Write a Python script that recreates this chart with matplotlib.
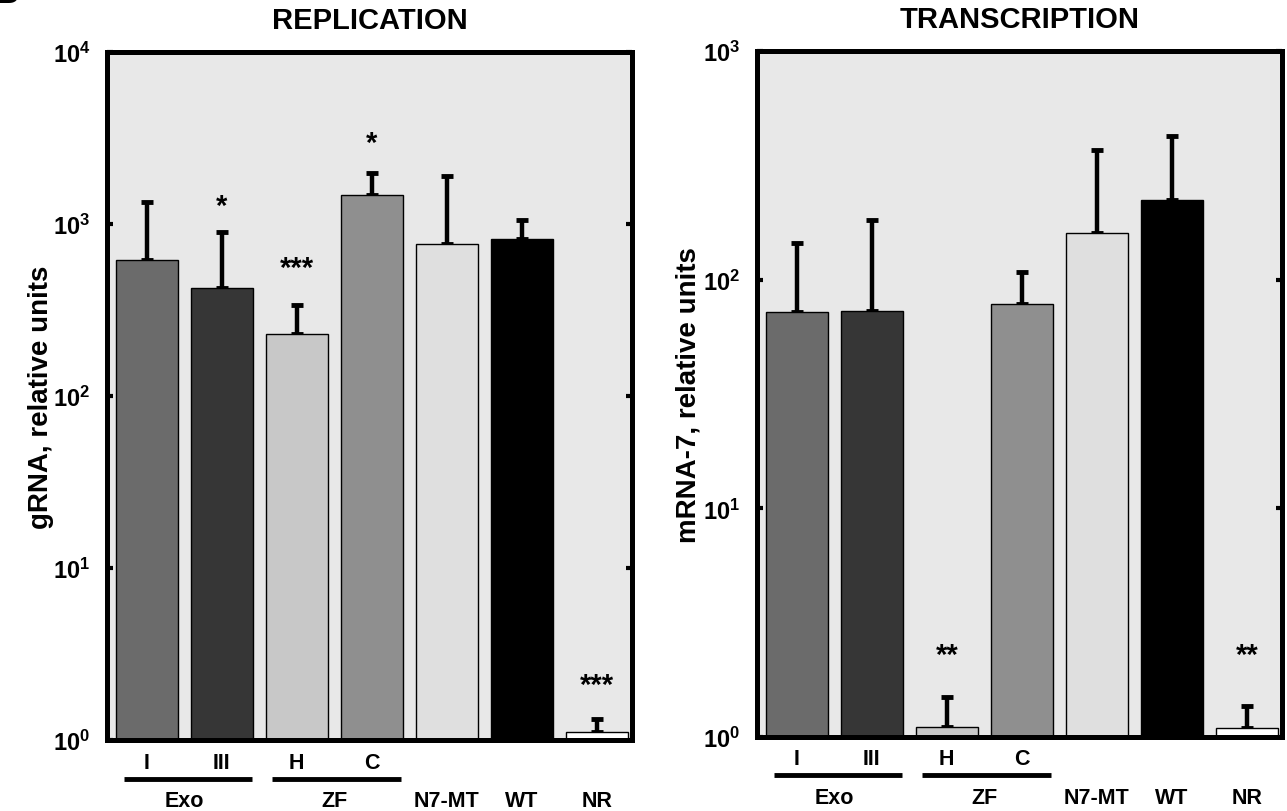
import matplotlib
matplotlib.use("Agg")
import matplotlib.pyplot as plt
import numpy as np

plt.rcParams["font.family"] = ["Liberation Sans", "DejaVu Sans"]
plt.rcParams["font.weight"] = "bold"
plt.rcParams["mathtext.fontset"] = "custom"
plt.rcParams["mathtext.rm"] = "Liberation Sans:bold"
plt.rcParams["mathtext.bf"] = "Liberation Sans:bold"

# data
bar_labels = ["I", "III", "H", "C", "", "", ""]
group_labels = ["Exo", "ZF", "N7-MT", "WT", "NR"]
bar_colors = ["#6b6b6b", "#363636", "#c8c8c8", "#8f8f8f", "#dfdfdf", "#000000", "#ffffff"]

rep_vals = [615, 427, 228, 1475, 762, 822, 1.11]
rep_err_top = [1343, 898, 336, 1987, 1892, 1054, 1.32]
rep_stars = ["", "*", "***", "*", "", "", "***"]
rep_star_y = [None, 1273, 557, 2970, None, None, 2.09]

tx_vals = [71.9, 73.1, 1.11, 78.2, 160, 224, 1.10]
tx_err_top = [144, 183, 1.5, 107.7, 370, 426, 1.37]
tx_stars = ["", "", "**", "", "", "", "**"]
tx_star_y = [None, None, 2.29, None, None, None, 2.29]

BG = "#e8e8e8"
x = np.arange(7)

fig = plt.figure(figsize=(12.87, 8.12), dpi=100)
ax1 = fig.add_axes([107 / 1287, 1 - 741 / 812, 525 / 1287, 688 / 812])
ax2 = fig.add_axes([757 / 1287, 1 - 738 / 812, 525 / 1287, 686 / 812])


def draw_panel(ax, vals, err_top, stars, star_y, ylim, title, ylabel, label_x):
    ax.set_facecolor(BG)
    ax.set_yscale("log")
    ax.bar(x, vals, width=0.83, color=bar_colors, edgecolor="black", linewidth=1.0, zorder=2)
    upper = np.array(err_top) - np.array(vals)
    ax.errorbar(x, vals, yerr=[np.zeros(7), upper], fmt="none", ecolor="black",
                elinewidth=3.2, capsize=4.5, capthick=3.5, zorder=1)
    for xi, s, sy in zip(x, stars, star_y):
        if s:
            ax.text(xi, sy, s, ha="center", va="center", fontsize=21, fontweight="bold")
    ax.set_xlim(-0.53, 6.47)
    ax.set_ylim(*ylim)
    decades = np.arange(int(np.log10(ylim[0])), int(np.log10(ylim[1])) + 1)
    ax.set_yticks(10.0 ** decades)
    ax.set_yticklabels([r"$\mathbf{10^{%d}}$" % d for d in decades], fontsize=17)
    ax.yaxis.set_minor_locator(matplotlib.ticker.NullLocator())
    ax.tick_params(axis="y", direction="in", length=4, width=3, right=True, pad=12)
    ax.set_xticks([])
    for sp in ax.spines.values():
        sp.set_linewidth(3.6)
    ax.set_title(title, fontsize=21, fontweight="bold", pad=17)
    ax.set_ylabel(ylabel, fontsize=20, fontweight="bold")
    ax.yaxis.set_label_coords(label_x, 0.5)

    # category labels below the axis
    trans = ax.get_xaxis_transform()
    for xi, lab in zip(x, bar_labels):
        if lab:
            ax.text(xi, -0.032, lab, transform=trans, ha="center", va="center",
                    fontsize=15.5, fontweight="bold", clip_on=False)
    for x0, x1 in [(-0.3, 1.4), (1.67, 3.39)]:
        ax.plot([x0, x1], [-0.056, -0.056], transform=trans, color="black",
                linewidth=3.5, clip_on=False, solid_capstyle="butt")
    for xi, lab in zip([0.5, 2.5, 4, 5, 6], group_labels):
        ax.text(xi, -0.088, lab, transform=trans, ha="center", va="center",
                fontsize=15.5, fontweight="bold", clip_on=False)


draw_panel(ax1, rep_vals, rep_err_top, rep_stars, rep_star_y, (1, 1e4),
           "REPLICATION", "gRNA, relative units", -0.1)
draw_panel(ax2, tx_vals, tx_err_top, tx_stars, tx_star_y, (1, 1e3),
           "TRANSCRIPTION", "mRNA-7, relative units", -0.105)

fig.text(-0.004, 1 - 10 / 812, "B", fontsize=24, fontweight="bold", ha="left", va="bottom")

fig.savefig("out.png", dpi=100, facecolor="white")
